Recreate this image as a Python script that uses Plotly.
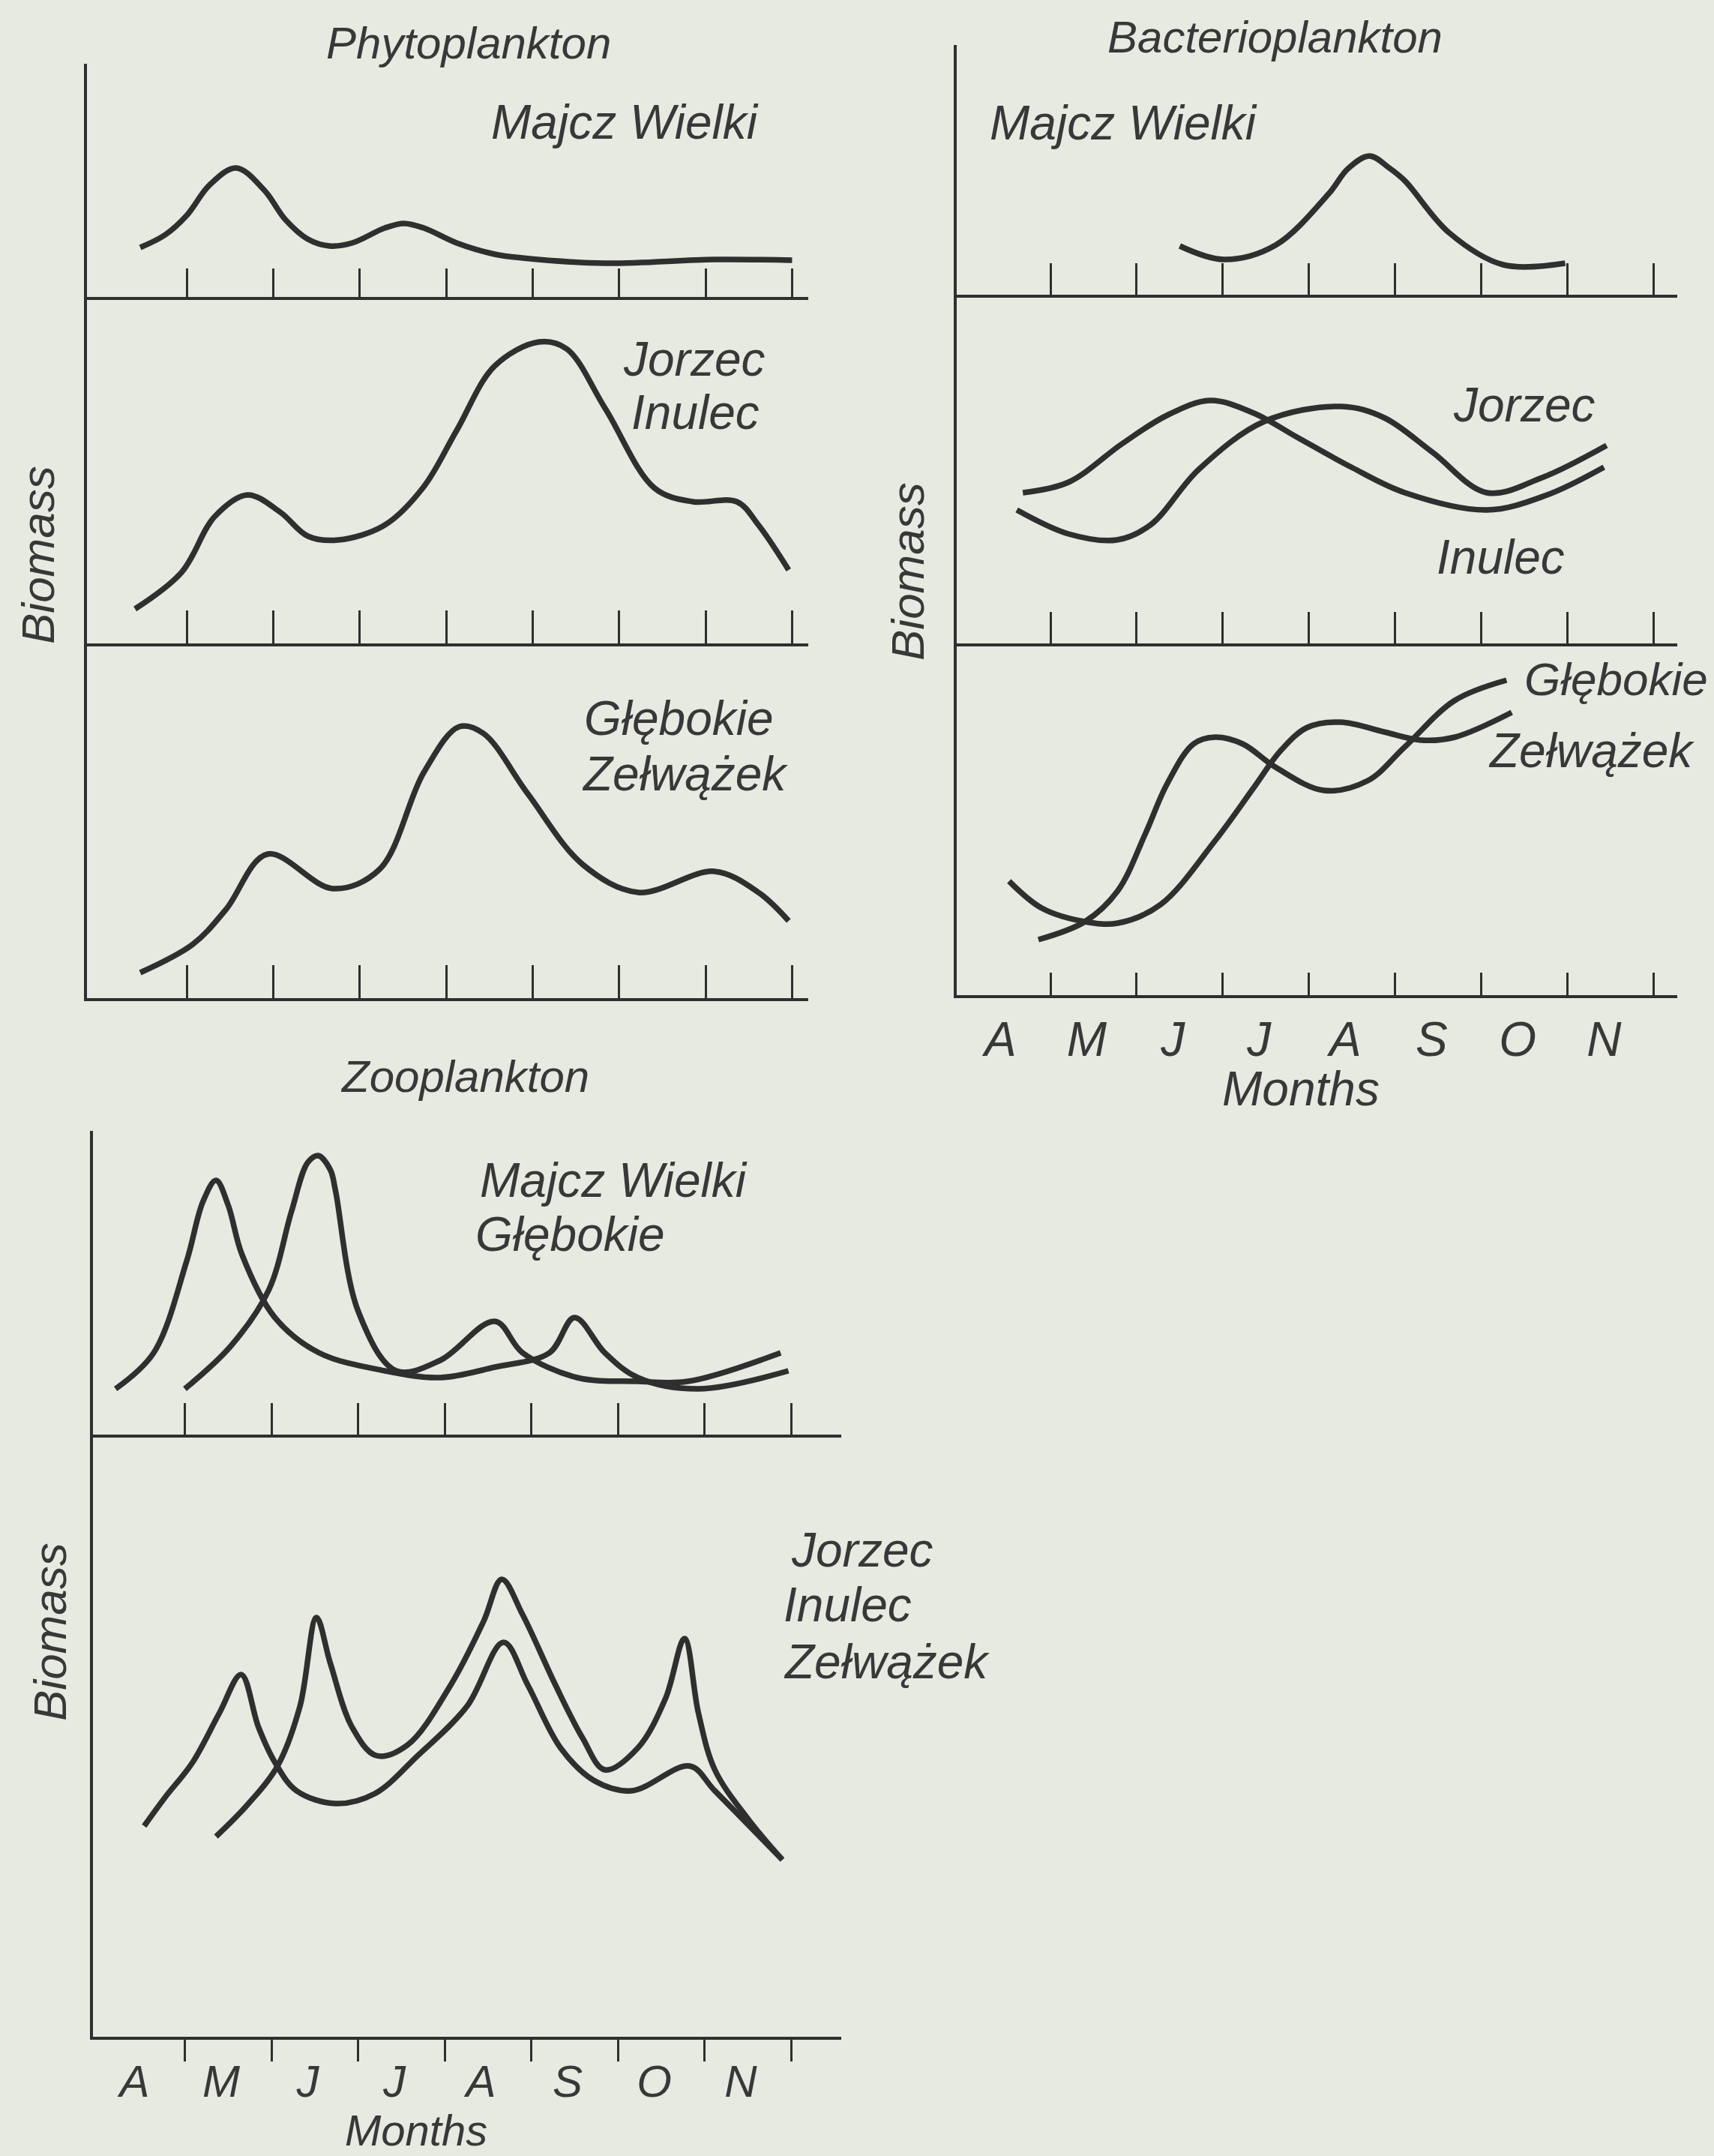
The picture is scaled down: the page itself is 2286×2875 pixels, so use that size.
import plotly.graph_objects as go

W, H = 2286, 2875
INK = "#2f2f2f"
TXT = "#383838"
BG = "#e7eae1"
FONT = "Liberation Sans"

MONTHS = ["A", "M", "J", "J", "A", "S", "O", "N"]
MONTH_POS = [i + 0.42 for i in range(8)]
TICK_POS = [1, 2, 3, 4, 5, 6, 7, 8]

# ---------------- Phytoplankton ----------------
phyto_majcz_x = [0.46, 0.75, 1.0, 1.26, 1.57, 1.89, 2.14, 2.40, 2.65, 2.91, 3.29, 3.51, 3.74, 4.12, 4.56, 4.88, 5.84, 7.10, 8.0]
phyto_majcz_y = [1.32, 1.66, 2.18, 2.98, 3.44, 2.86, 2.06, 1.54, 1.36, 1.44, 1.84, 1.96, 1.84, 1.44, 1.14, 1.04, 0.90, 1.0, 0.98]

phyto_jorzec_x = [0.40, 0.94, 1.32, 1.70, 2.08, 2.40, 2.75, 3.29, 3.74, 4.12, 4.56, 5.07, 5.39, 5.84, 6.41, 6.85, 7.36, 7.61, 7.96]
phyto_jorzec_y = [0.92, 1.90, 3.38, 3.96, 3.50, 2.86, 2.76, 3.16, 4.18, 5.68, 7.40, 8.04, 7.86, 6.26, 4.14, 3.78, 3.78, 3.16, 1.96]

phyto_glebokie_x = [0.46, 1.07, 1.45, 1.93, 2.69, 3.23, 3.74, 4.15, 4.43, 4.94, 5.58, 6.22, 7.10, 7.61, 7.96]
phyto_glebokie_y = [0.68, 1.44, 2.36, 3.84, 2.92, 3.44, 6.02, 7.24, 7.06, 5.46, 3.56, 2.82, 3.38, 2.82, 2.06]

# ---------------- Zooplankton ----------------
zoo_majcz_x = [0.20, 0.64, 1.02, 1.21, 1.36, 1.50, 1.66, 2.04, 2.55, 3.31, 3.95, 4.58, 5.21, 5.50, 5.85, 6.23, 6.93, 7.97]
zoo_majcz_y = [1.22, 2.18, 4.62, 6.22, 6.78, 6.12, 4.80, 3.12, 2.18, 1.70, 1.52, 1.80, 2.18, 3.12, 2.18, 1.52, 1.22, 1.70]

zoo_glebokie_x = [1.00, 1.53, 1.97, 2.23, 2.42, 2.54, 2.68, 2.74, 3.00, 3.44, 3.95, 4.58, 4.90, 5.53, 6.23, 6.81, 7.88]
zoo_glebokie_y = [1.22, 2.36, 3.86, 5.94, 7.26, 7.44, 7.06, 6.50, 3.30, 1.70, 1.98, 3.02, 2.18, 1.52, 1.42, 1.42, 2.18]

zoo_low_x = [0.53, 0.77, 1.09, 1.40, 1.65, 1.85, 2.04, 2.29, 2.74, 3.19, 3.69, 4.26, 4.68, 4.96, 5.34, 5.72, 6.16, 6.83, 7.12, 7.90]
zoo_low_y = [5.62, 6.38, 7.32, 8.64, 9.66, 8.26, 7.32, 6.56, 6.22, 6.48, 7.50, 8.82, 10.52, 9.38, 7.70, 6.84, 6.56, 7.22, 6.56, 4.72]

zoo_high_x = [1.36, 1.72, 2.07, 2.33, 2.52, 2.68, 2.93, 3.21, 3.57, 4.07, 4.45, 4.66, 4.90, 5.28, 5.59, 5.85, 6.23, 6.55, 6.77, 6.93, 7.12, 7.50, 7.90]
zoo_high_y = [5.34, 6.18, 7.22, 8.82, 11.18, 9.96, 8.26, 7.50, 7.78, 9.38, 11.08, 12.20, 11.26, 9.38, 7.98, 7.12, 7.70, 9.02, 10.62, 8.64, 7.12, 5.82, 4.72]

# ---------------- Bacterioplankton ----------------
bact_majcz_x = [2.50, 3.01, 3.61, 4.23, 4.45, 4.70, 4.93, 5.11, 5.62, 6.25, 6.97]
bact_majcz_y = [1.30, 0.94, 1.32, 2.70, 3.36, 3.70, 3.38, 3.04, 1.66, 0.80, 0.84]

bact_inulec_x = [0.68, 1.21, 1.84, 2.35, 2.85, 3.36, 3.86, 4.49, 5.11, 6.06, 6.76, 7.42]
bact_inulec_y = [4.02, 4.30, 5.34, 6.08, 6.48, 6.14, 5.50, 4.70, 4.02, 3.56, 3.96, 4.70]

bact_jorzec_x = [0.61, 1.21, 1.77, 2.16, 2.72, 3.48, 4.37, 4.87, 5.43, 6.06, 6.70, 7.45]
bact_jorzec_y = [3.56, 2.92, 2.76, 3.16, 4.64, 5.92, 6.32, 6.02, 5.10, 4.02, 4.42, 5.28]

bact_glebokie_x = [0.86, 1.40, 1.78, 2.10, 2.35, 2.66, 2.91, 3.23, 3.61, 4.17, 4.68, 5.11, 5.69, 6.29]
bact_glebokie_y = [1.48, 1.96, 2.78, 4.30, 5.62, 6.70, 6.88, 6.70, 6.08, 5.46, 5.72, 6.62, 7.86, 8.40]

bact_zelwazek_x = [0.52, 0.90, 1.40, 1.78, 2.28, 2.91, 3.36, 3.67, 3.98, 4.37, 4.87, 5.30, 5.69, 6.35]
bact_zelwazek_y = [3.04, 2.32, 1.96, 1.92, 2.42, 4.12, 5.54, 6.52, 7.14, 7.28, 7.02, 6.80, 6.88, 7.54]


def px(x):
    return x / W


def py(y):
    return 1 - y / H


fig = go.Figure()

# (name, x-domain px, y-domain px (top, bottom), x-range, y-top, tick side, tick len, labels?, label standoff, label size)
panels = [
    ("1", (116, 1078), (85, 396), (-0.156, 8.187), 6.22, "inside", 38, False, 0, 64),
    ("2", (116, 1078), (396, 858), (-0.156, 8.187), 9.24, "inside", 44, False, 0, 64),
    ("3", (116, 1078), (858, 1331), (-0.156, 8.187), 9.46, "inside", 44, False, 0, 64),
    ("4", (124, 1122), (1508, 1913), (-0.061, 8.58), 8.10, "inside", 42, False, 0, 64),
    ("5", (124, 1122), (1913, 2716), (-0.061, 8.58), 16.06, "outside", 29, True, 4, 60),
    ("6", (1276, 2237), (60, 393), (-0.087, 8.27), 6.66, "inside", 42, False, 0, 64),
    ("7", (1276, 2237), (393, 858), (-0.087, 8.27), 9.30, "inside", 42, False, 0, 64),
    ("8", (1276, 2237), (858, 1327), (-0.087, 8.27), 9.38, "inside", 30, True, 0, 64),
]

for name, xd, yd, xr, ytop, tside, tlen, labels, standoff, lsize in panels:
    xk = "xaxis" if name == "1" else "xaxis" + name
    yk = "yaxis" if name == "1" else "yaxis" + name
    xa = dict(
        domain=[px(xd[0]), px(xd[1])],
        range=list(xr),
        anchor="y" if name == "1" else "y" + name,
        showline=True, linecolor=INK, linewidth=4,
        showgrid=False, zeroline=False,
        tickmode="array",
        tickvals=MONTH_POS if labels else [],
        ticktext=MONTHS if labels else [],
        ticks="", ticklen=0,
        showticklabels=labels,
        tickfont=dict(family=FONT, size=lsize, color=TXT, style="italic"),
        ticklabelstandoff=standoff,
        minor=dict(tickmode="array", tickvals=TICK_POS, ticks=tside,
                   ticklen=tlen, tickwidth=3, tickcolor=INK, showgrid=False),
        fixedrange=True,
    )
    ya = dict(
        domain=[py(yd[1]), py(yd[0])],
        range=[0, ytop],
        anchor="x" if name == "1" else "x" + name,
        showline=True, linecolor=INK, linewidth=4,
        showgrid=False, zeroline=False, ticks="", showticklabels=False,
        fixedrange=True,
    )
    fig.update_layout({xk: xa, yk: ya})

series = [
    ("1", phyto_majcz_x, phyto_majcz_y),
    ("2", phyto_jorzec_x, phyto_jorzec_y),
    ("3", phyto_glebokie_x, phyto_glebokie_y),
    ("4", zoo_majcz_x, zoo_majcz_y),
    ("4", zoo_glebokie_x, zoo_glebokie_y),
    ("5", zoo_low_x, zoo_low_y),
    ("5", zoo_high_x, zoo_high_y),
    ("6", bact_majcz_x, bact_majcz_y),
    ("7", bact_inulec_x, bact_inulec_y),
    ("7", bact_jorzec_x, bact_jorzec_y),
    ("8", bact_glebokie_x, bact_glebokie_y),
    ("8", bact_zelwazek_x, bact_zelwazek_y),
]
for name, xs, ys in series:
    fig.add_trace(go.Scatter(
        x=xs, y=ys, mode="lines",
        line=dict(color=INK, width=7.5, shape="spline", smoothing=1.0),
        xaxis="x" if name == "1" else "x" + name,
        yaxis="y" if name == "1" else "y" + name,
        showlegend=False, hoverinfo="skip",
    ))


def label(text, x, y, anchor="left", size=64, angle=0, yanchor="middle"):
    fig.add_annotation(
        text=text, x=px(x), y=py(y), xref="paper", yref="paper",
        xanchor=anchor, yanchor=yanchor, showarrow=False, textangle=angle,
        font=dict(family=FONT, size=size, color=TXT, style="italic"),
    )


label("Phytoplankton", 625, 57, "center", 60)
label("Majcz Wielki", 653, 163)
label("Jorzec", 829, 479)
label("Inulec", 840, 550)
label("Głębokie", 777, 958)
label("Zełwążek", 774, 1032)
label("Zooplankton", 620, 1436, "center", 60)
label("Majcz Wielki", 638, 1574)
label("Głębokie", 632, 1646)
label("Jorzec", 1053, 2067)
label("Inulec", 1043, 2140)
label("Zełwążek", 1043, 2216)
label("Months", 555, 2875, "center", 58, 0, "bottom")
label("Bacterioplankton", 1700, 49, "center", 60)
label("Majcz Wielki", 1318, 164)
label("Jorzec", 1936, 540)
label("Inulec", 1914, 743)
label("Głębokie", 2280, 905, "right", 62)
label("Zełwążek", 1983, 1001)
label("Months", 1735, 1452, "center")
label("Biomass", 50, 740, "center", 62, -90)
label("Biomass", 1211, 762, "center", 62, -90)
label("Biomass", 66, 2176, "center", 62, -90)

fig.update_layout(
    width=W, height=H,
    margin=dict(l=0, r=0, t=0, b=0),
    paper_bgcolor=BG, plot_bgcolor=BG,
    showlegend=False,
    font=dict(family=FONT, color=TXT),
)

fig.write_html(
    "out.html",
    config={"displayModeBar": False, "staticPlot": True},
    post_script="document.body.style.margin='0';document.body.style.padding='0';"
                "document.body.style.background='" + BG + "';",
)
